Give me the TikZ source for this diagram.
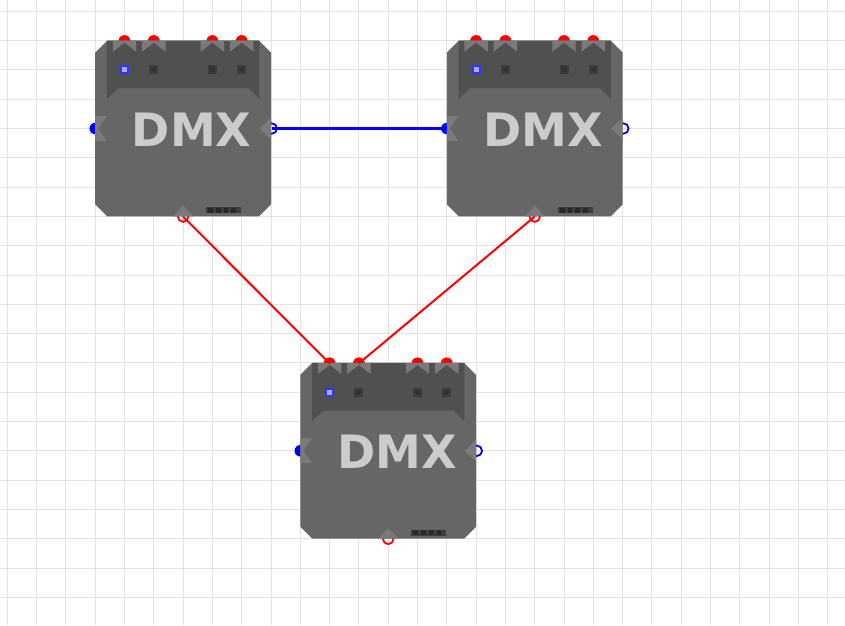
\documentclass[tikz,border=0pt]{standalone}
\usepackage{fontspec}
\newfontfamily\dmxfont{DejaVu Sans}
\definecolor{bodygray}{RGB}{102,102,102}
\definecolor{panelgray}{RGB}{80,80,80}
\definecolor{chevgray}{RGB}{122,122,122}
\definecolor{txtgray}{RGB}{204,204,204}
\definecolor{gridgray}{RGB}{226,226,226}
\definecolor{sqout}{RGB}{60,60,60}
\definecolor{sqin}{RGB}{50,50,50}
\definecolor{ledblue}{RGB}{51,51,255}
\definecolor{ledin}{RGB}{170,170,255}
\tikzset{
  gridline/.style={draw=gridgray, line width=1pt},
  reddot/.style={circle, fill=red, minimum size=12pt, inner sep=0pt},
  bluedot/.style={circle, fill=blue, minimum size=11.5pt, inner sep=0pt},
  redring/.style={circle, draw=red, line width=1.8pt, minimum size=10.5pt, inner sep=0pt},
  bluering/.style={circle, draw=blue, line width=1.8pt, minimum size=10.5pt, inner sep=0pt},
  blueline/.style={draw=blue, line width=2.2pt},
  redline/.style={draw=red, line width=2pt},
  dmxtext/.style={text=txtgray, font=\dmxfont\bfseries\fontsize{46}{50}\selectfont, inner sep=0pt, anchor=base},
  dmx/.pic={
    \foreach \x [count=\i] in {29.3,58.6,117.2,146.5} {\node[reddot] (-t\i) at (\x,0.5) {};}
    \node[bluedot] (-in) at (0,87.9) {};
    \node[bluering] (-out) at (176.5,87.9) {};
    \node[redring] (-bot) at (87.9,176) {};
    % body
    \fill[bodygray] (0,12) -- (12,0) -- (163.8,0) -- (175.8,12) -- (175.8,163.8) -- (163.8,175.8) -- (12,175.8) -- (0,163.8) -- cycle;
    % top panel
    \fill[panelgray] (11.7,0) -- (164.1,0) -- (164.1,58.3) -- (153.3,47.6) -- (23.3,47.6) -- (11.7,58.3) -- cycle;
    % top chevrons
    \foreach \x in {29.3,58.6,117.2,146.5} {
      \fill[chevgray] (\x-11.7,0) -- (\x+11.7,0) -- (\x+11.7,11) -- (\x,2) -- (\x-11.7,11) -- cycle;
    }
    % left chevron
    \fill[chevgray] (0,75.5) -- (11.7,75.5) -- (3,87.9) -- (11.7,100.3) -- (0,100.3) -- cycle;
    % right triangle
    \fill[chevgray] (175.8,77) -- (164.3,87.9) -- (175.8,98.8) -- cycle;
    % bottom triangle
    \fill[chevgray] (77.9,175.8) -- (87.9,164.8) -- (97.9,175.8) -- cycle;
    % indicator squares
    \fill[ledblue] (24.8,24.6) rectangle (33.8,33.6);
    \fill[ledin] (26.8,26.6) rectangle (31.8,31.6);
    \foreach \x in {58.6,117.2,146.5} {
      \fill[sqout] (\x-4.5,24.6) rectangle (\x+4.5,33.6);
      \fill[sqin] (\x-2.5,26.6) rectangle (\x+2.5,31.6);
    }
    % bottom strip
    \fill[sqout] (110.7,166.6) rectangle (146,172.6);
    \foreach \x in {115.4,123.1,130.8,138.5} {
      \fill[sqin!80!black] (\x-2.3,167.3) rectangle (\x+2.3,171.9);
    }
    \node[dmxtext] (-label) at (96.5,106) {DMX};
  }
}
\begin{document}
\begin{tikzpicture}[x=1pt,y=-1pt]
  \useasboundingbox (0,0) rectangle (845,625);
  \fill[white] (0,0) rectangle (845,625);
  \foreach \i in {0,...,28} {\draw[gridline] ({7.3+\i*29.3},0) -- ({7.3+\i*29.3},625);}
  \foreach \i in {0,...,20} {\draw[gridline] (0,{11.3+\i*29.3}) -- (845,{11.3+\i*29.3});}
  \pic (b1) at (95.2,40.6) {dmx};
  \pic (b2) at (446.8,40.6) {dmx};
  \pic (b3) at (300.3,362.9) {dmx};
  \draw[blueline] (b1-out.center) -- (b2-in.center);
  \draw[redline] (b1-bot.center) -- (b3-t1.center);
  \draw[redline] (b2-bot.center) -- (b3-t2.center);
\end{tikzpicture}
\end{document}
